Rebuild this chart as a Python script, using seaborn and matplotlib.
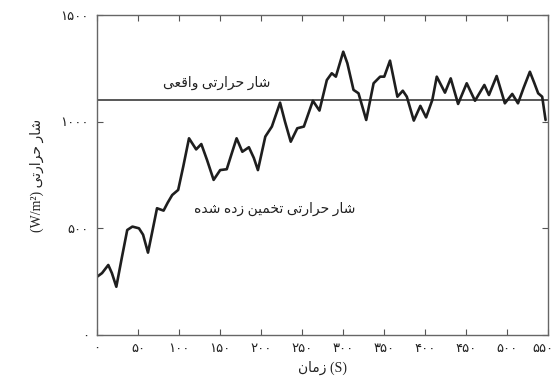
import numpy as np
import pandas as pd
import seaborn as sns
import matplotlib.pyplot as plt
import matplotlib.transforms as mtrans

# estimated heat flux curve
time_s = [0, 6, 13.6, 18, 23.4, 30, 36.7, 43, 51, 56, 62, 67, 73, 81, 86, 91.5, 98.8, 105, 112,
          120.7, 127, 134, 142, 150, 158, 164, 170, 177, 185, 191, 196, 205, 213, 223,
          229, 236, 244, 252, 263, 271, 280, 286, 291, 300, 305, 312.5, 318.6, 328,
          337, 345, 350, 357, 366, 372.6, 377.5, 386, 394, 401, 408.6, 414, 424, 431,
          440, 450.5, 460.6, 472, 477.6, 487, 497, 506, 513, 520, 527.5, 533, 537.6,
          542.5, 546.6]
flux_est = [273, 290, 328, 290, 226, 360, 492, 508, 500, 470, 386, 480, 594, 583, 620, 656, 680, 790, 922,
            870, 895, 820, 727, 773, 777, 850, 922, 859, 880, 830, 773, 930, 977, 1089,
            1000, 906, 969, 977, 1098, 1052, 1195, 1227, 1211, 1328, 1274, 1149, 1133, 1008,
            1180, 1211, 1211, 1286, 1117, 1145, 1117, 1005, 1074, 1020, 1102, 1211, 1136, 1203,
            1083, 1180, 1098, 1172, 1125, 1214, 1086, 1130, 1086, 1160, 1234, 1180, 1133,
            1117, 1008]
true_flux = 1100

x_ticks = [0, 50, 100, 150, 200, 250, 300, 350, 400, 450, 500, 550]
y_ticks = [0, 500, 1000, 1500]

label_true = 'شار حرارتی واقعی'
label_est = 'شار حرارتی تخمین زده شده'
xlabel_word = 'زمان'
ylabel_word = 'شار حرارتی'

# tiny persian shaper: matplotlib has no bidi / joining
FORMS = {
    'ا': ('\uFE8D', '\uFE8E'), 'د': ('\uFEA9', '\uFEAA'), 'ر': ('\uFEAD', '\uFEAE'),
    'ز': ('\uFEAF', '\uFEB0'), 'و': ('\uFEED', '\uFEEE'),
    'ت': ('\uFE95', '\uFE96', '\uFE97', '\uFE98'), 'ح': ('\uFEA1', '\uFEA2', '\uFEA3', '\uFEA4'),
    'خ': ('\uFEA5', '\uFEA6', '\uFEA7', '\uFEA8'), 'ش': ('\uFEB5', '\uFEB6', '\uFEB7', '\uFEB8'),
    'ع': ('\uFEC9', '\uFECA', '\uFECB', '\uFECC'), 'ق': ('\uFED5', '\uFED6', '\uFED7', '\uFED8'),
    'م': ('\uFEE1', '\uFEE2', '\uFEE3', '\uFEE4'), 'ن': ('\uFEE5', '\uFEE6', '\uFEE7', '\uFEE8'),
    'ه': ('\uFEE9', '\uFEEA', '\uFEEB', '\uFEEC'), 'ی': ('\uFEEF', '\uFEF0', '\uFEF3', '\uFEF4'),
}


def shape(s):
    out = []
    for i, c in enumerate(s):
        if c not in FORMS:
            out.append(c)
            continue
        prev = s[i - 1] if i > 0 else ''
        nxt = s[i + 1] if i + 1 < len(s) else ''
        jp = prev in FORMS and len(FORMS[prev]) == 4
        jn = len(FORMS[c]) == 4 and nxt in FORMS
        f = FORMS[c]
        if jp and jn:
            out.append(f[3])
        elif jp:
            out.append(f[1])
        elif jn:
            out.append(f[2])
        else:
            out.append(f[0])
    return ''.join(reversed(out))


def fa_digits(v):
    return str(v).translate(str.maketrans('0123456789', '۰۱۲۳۴۵۶۷۸۹'))


sns.set_style('ticks')
plt.rcParams['font.family'] = ['Liberation Serif', 'DejaVu Sans']

df = pd.DataFrame({'t': time_s, 'q': flux_est})

fig = plt.figure(figsize=(5.55, 3.85), dpi=100)
ax = fig.add_axes([0.175, 0.13, 0.813, 0.831])

ax.axhline(true_flux, color='#4a4a4a', lw=1.3, zorder=1)
sns.lineplot(data=df, x='t', y='q', ax=ax, color='#1e1e1e', lw=1.9, zorder=2)

ax.set_xlim(0, 550)
ax.set_ylim(0, 1500)
ax.set_xticks(x_ticks)
ax.set_xticklabels([fa_digits(v) for v in x_ticks])
ax.set_yticks(y_ticks)
ax.set_yticklabels([fa_digits(v) for v in y_ticks])
ax.tick_params(direction='in', top=True, right=True, length=4, width=0.8,
               colors='#555555', labelcolor='#222222', labelsize=9.5, pad=6)
for sp in ax.spines.values():
    sp.set_color('#666666')
    sp.set_linewidth(1.0)

# last x tick label sits at the picture edge; nudge it in a little
last = ax.get_xticklabels()[-1]
last.set_transform(last.get_transform() + mtrans.ScaledTranslation(-4 / 72, 0, fig.dpi_scale_trans))

ax.set_xlabel(shape(xlabel_word) + ' (S)', fontsize=10, color='#222222', labelpad=4)
ax.set_ylabel('(W/m²) ' + shape(ylabel_word), fontsize=10, color='#222222', labelpad=12)

ax.text(146, 1181, shape(label_true), ha='center', va='center', fontsize=10, color='#222222')
ax.text(216, 591, shape(label_est), ha='center', va='center', fontsize=10, color='#222222')

fig.savefig('out.png', dpi=100)
